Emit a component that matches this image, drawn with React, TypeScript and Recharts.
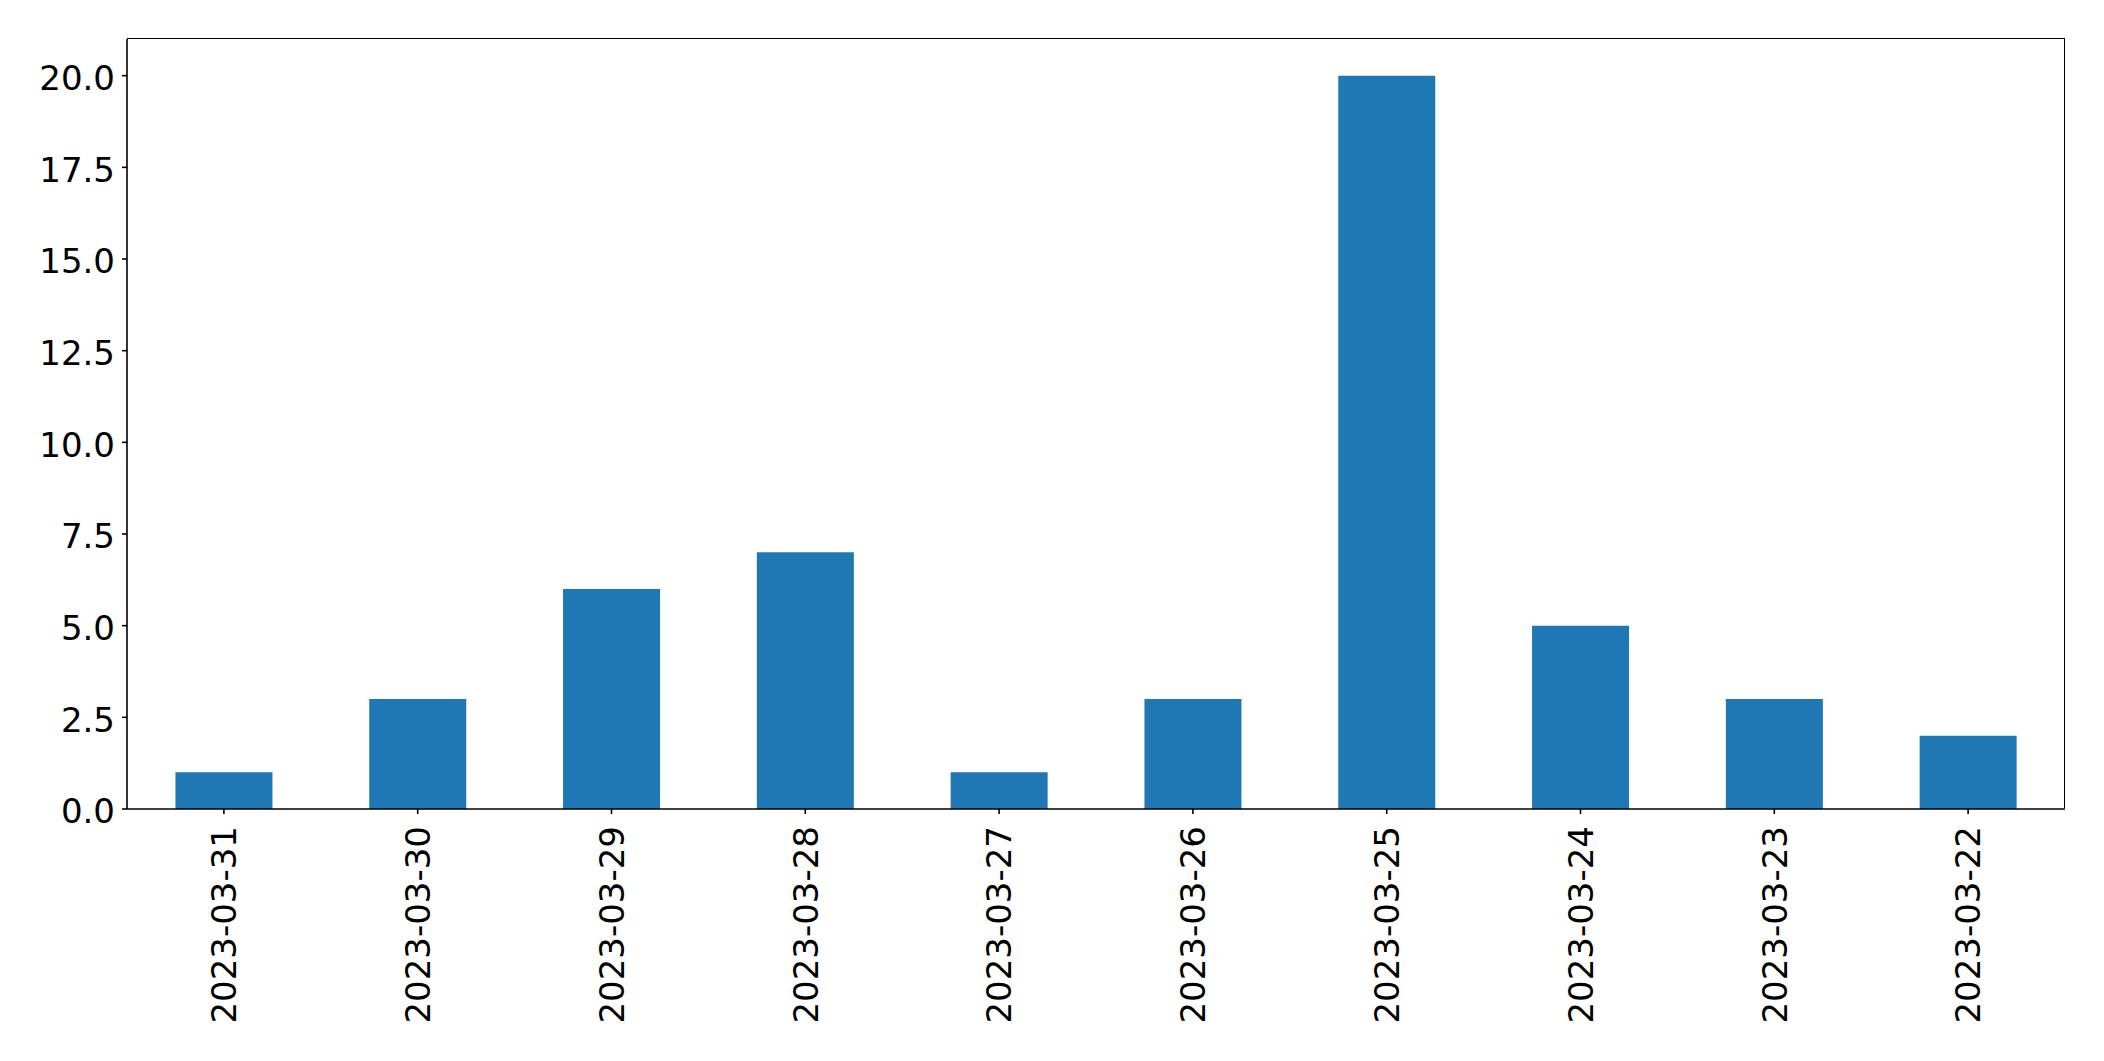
import { BarChart, Bar, XAxis, YAxis } from "recharts";

const dates = [
  "2023-03-31",
  "2023-03-30",
  "2023-03-29",
  "2023-03-28",
  "2023-03-27",
  "2023-03-26",
  "2023-03-25",
  "2023-03-24",
  "2023-03-23",
  "2023-03-22"
];
const counts = [1, 3, 6, 7, 1, 3, 20, 5, 3, 2];
const yTicks = [0, 2.5, 5, 7.5, 10, 12.5, 15, 17.5, 20];

const data = dates.map((d, i) => ({ date: d, count: counts[i] }));

const FONT = "'DejaVu Sans', sans-serif";
const W = 2104;
const H = 1061;
const M = { top: 39, right: 39, left: 127, bottom: 252 };

const DateTick = ({ x, y, payload }: any) => (
  <g transform={`translate(${x},${y + 12})`}>
    <text
      transform="rotate(-90)"
      textAnchor="end"
      dy="0.36em"
      fontSize={34}
      fontFamily={FONT}
      fill="#000"
    >
      {payload.value}
    </text>
  </g>
);

const ValueTick = ({ x, y, payload }: any) => (
  <text
    x={x}
    y={y}
    dy="0.42em"
    textAnchor="end"
    fontSize={34}
    fontFamily={FONT}
    fill="#000"
  >
    {Number(payload.value).toFixed(1)}
  </text>
);

export default function App() {
  const axisLine = { stroke: "#000", strokeWidth: 1.6 };
  return (
    <div style={{ position: "relative", width: W, height: H, background: "#fff" }}>
      <style>{"body{margin:0}"}</style>
      <BarChart
        width={W}
        height={H}
        data={data}
        margin={{ top: M.top, right: M.right, bottom: 0, left: 0 }}
        barCategoryGap="25%"
      >
        <XAxis
          dataKey="date"
          height={M.bottom}
          interval={0}
          tick={<DateTick />}
          tickSize={5}
          tickMargin={0}
          axisLine={axisLine}
          tickLine={axisLine}
        />
        <YAxis
          width={M.left}
          domain={[0, 21]}
          ticks={yTicks}
          interval={0}
          tick={<ValueTick />}
          tickSize={5}
          tickMargin={7}
          axisLine={axisLine}
          tickLine={axisLine}
        />
        <Bar dataKey="count" fill="#1f77b4" isAnimationActive={false} />
      </BarChart>
      {/* top and right spines */}
      <div
        style={{
          position: "absolute",
          left: M.left,
          top: M.top - 0.8,
          width: W - M.left - M.right,
          height: H - M.top - M.bottom,
          borderTop: "1.6px solid #000",
          borderRight: "1.6px solid #000",
          boxSizing: "border-box",
          marginRight: -0.8,
          pointerEvents: "none"
        }}
      />
    </div>
  );
}
